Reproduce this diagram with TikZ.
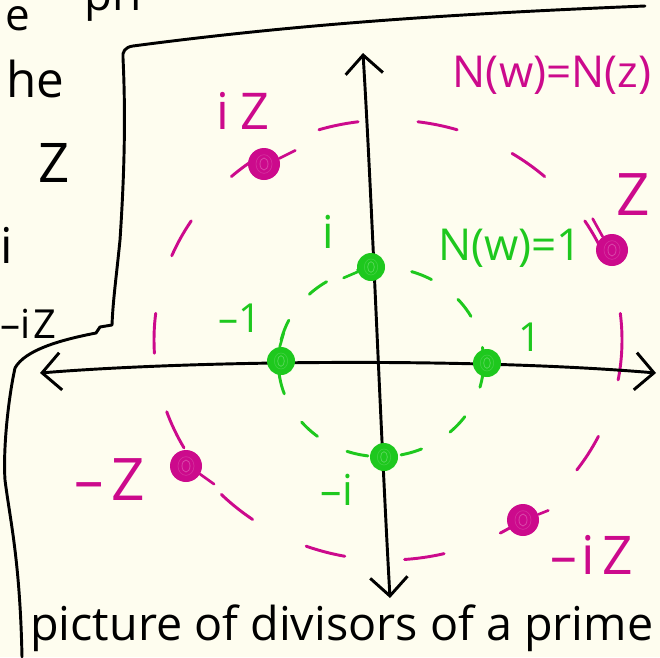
\documentclass[tikz,border=0pt]{standalone}
\usepackage{fontspec}
\setmainfont{Open Sans}
\usetikzlibrary{arrows.meta}
\definecolor{bgcol}{HTML}{FEFDEF}
\definecolor{magcol}{HTML}{CC0A8C}
\definecolor{grncol}{HTML}{1EC81E}
\tikzset{
  blackline/.style={line width=2.2pt, line cap=round, line join=round, black},
  axisline/.style={blackline, {Straight Barb[length=14pt,width=28pt,line width=2.2pt]}-{Straight Barb[length=14pt,width=28pt,line width=2.2pt]}},
  magdash/.style={magcol, line width=2.2pt, line cap=round, dash pattern=on 30pt off 45pt, dash phase=10pt},
  grndash/.style={grncol, line width=2.2pt, line cap=round, dash pattern=on 16pt off 25pt, dash phase=5pt},
  tail/.style={line width=2pt, line cap=round},
  mdot/.style={circle, fill=magcol, inner sep=0, minimum size=24pt,
    path picture={\draw[white!25!magcol, line width=0.6pt] (path picture bounding box.center) ellipse (3pt and 4.5pt);
                  \draw[white!15!magcol, line width=0.5pt] (path picture bounding box.center) ellipse (6pt and 7pt);}},
  gdot/.style={circle, fill=grncol, inner sep=0, minimum size=21pt,
    path picture={\draw[white!25!grncol, line width=0.6pt] (path picture bounding box.center) ellipse (2.5pt and 4pt);
                  \draw[white!15!grncol, line width=0.5pt] (path picture bounding box.center) ellipse (5pt and 6pt);}},
  lbl/.style={inner sep=0},
  maglbl/.style={lbl, text=magcol},
  grnlbl/.style={lbl, text=grncol},
  frag/.style={lbl, anchor=base west, text=black},
}
\begin{document}
\begin{tikzpicture}[x=0.75pt,y=-0.75pt]
\useasboundingbox (0,0) rectangle (660,657);
\fill[bgcol] (0,0) rectangle (660,657);
% fragments of the page behind the frame
\node[frag, font=\fontsize{33pt}{40pt}\selectfont] (fe) at (5,30) {e};
\node[frag, font=\fontsize{34pt}{40pt}\selectfont] (fpr) at (84,10) {pri};
\node[frag, font=\fontsize{37pt}{44pt}\selectfont] (fhe) at (6,97) {he};
\node[frag, font=\fontsize{41pt}{48pt}\selectfont] (fz) at (38,182) {Z};
\node[frag, font=\fontsize{37pt}{44pt}\selectfont] (fi) at (0,263) {i};
\node[frag, font=\fontsize{30pt}{36pt}\selectfont] (fiz) at (0,338) {–i\hspace{2pt}Z};
% frame interior covers the fragments
\fill[bgcol] (125,48) -- (645,6) -- (660,5) -- (660,657) -- (22,657)
  .. controls (18,600) and (5,520) .. (5,470) -- (13,380)
  .. controls (15,360) and (60,348) .. (95,332) -- (112,325)
  -- (118,250) -- (125,150) -- (123,55) -- cycle;
% frame
\draw[blackline] (645,6) .. controls (450,14) and (300,24) .. (133,46)
  .. controls (125,47) and (122,52) .. (123,58)
  .. controls (126,120) and (124,180) .. (120,240)
  .. controls (116,280) and (113,300) .. (112,325) -- (100,327) -- (96,333)
  .. controls (60,340) and (25,350) .. (15,368)
  .. controls (8,400) and (3,450) .. (5,480)
  .. controls (10,520) and (20,560) .. (22,657);
% dashed circles
\draw[magdash] (388,340) ellipse [x radius=175.5pt, y radius=165pt];
\draw[grndash] (381,362) ellipse [x radius=77pt, y radius=71pt];
% axes
\coordinate (xl) at (40,373);
\coordinate (xr) at (656,373);
\coordinate (yt) at (363,53);
\coordinate (yb) at (390,598);
\draw[axisline] (xl) .. controls (200,360) and (480,358) .. (xr);
\draw[axisline] (yt) .. controls (372,200) and (380,420) .. (yb);
% dots
\node[gdot] (gt) at (371,267) {};
\node[gdot] (gl) at (281,361) {};
\node[gdot] (gr) at (487,363) {};
\node[gdot] (gb) at (384,457) {};
\node[mdot] (miz) at (264,164) {};
\node[mdot] (mz) at (612,250) {};
\node[mdot] (mmz) at (186,466) {};
\node[mdot] (mmiz) at (523,520) {};
% little tails
\draw[tail, magcol] (miz.20) -- ++(16,-8);
\draw[tail, magcol] (mz.125) -- ++(-10,-18);
\draw[tail, magcol] (mmz.-30) -- ++(14,10);
\draw[tail, magcol] (mmiz.20) -- ++(10,-4);
\draw[tail, grncol] (gt.200) -- ++(-14,6);
\draw[tail, grncol] (gl.95) -- ++(4,-14);
% labels
\node[maglbl, font=\fontsize{38pt}{44pt}\selectfont] (liz) at (243,111) {i\hspace{8pt}Z};
\node[maglbl, font=\fontsize{44pt}{52pt}\selectfont] (lz) at (633,195) {Z};
\node[maglbl, font=\fontsize{44pt}{52pt}\selectfont] (lmz) at (110,480) {–\hspace{6pt}Z};
\node[maglbl, font=\fontsize{40pt}{46pt}\selectfont] (lmiz) at (592,555) {–\hspace{3pt}i\hspace{6pt}Z};
\node[maglbl, font=\fontsize{33pt}{40pt}\selectfont] (lnn) at (552,75) {N(w)=N(z)};
\node[grnlbl, font=\fontsize{33pt}{40pt}\selectfont] (ln1) at (510,248) {N(w)=1};
\node[grnlbl, font=\fontsize{34pt}{40pt}\selectfont] (li) at (328,232) {i};
\node[grnlbl, font=\fontsize{30pt}{36pt}\selectfont] (lm1) at (240,318) {–1};
\node[grnlbl, font=\fontsize{30pt}{36pt}\selectfont] (l1) at (530,337) {1};
\node[grnlbl, font=\fontsize{32pt}{38pt}\selectfont] (lmi) at (337,490) {–i};
\node[frag, font=\fontsize{35pt}{42pt}\selectfont] (cap) at (30,640) {picture of divisors of a prime};
\end{tikzpicture}
\end{document}
